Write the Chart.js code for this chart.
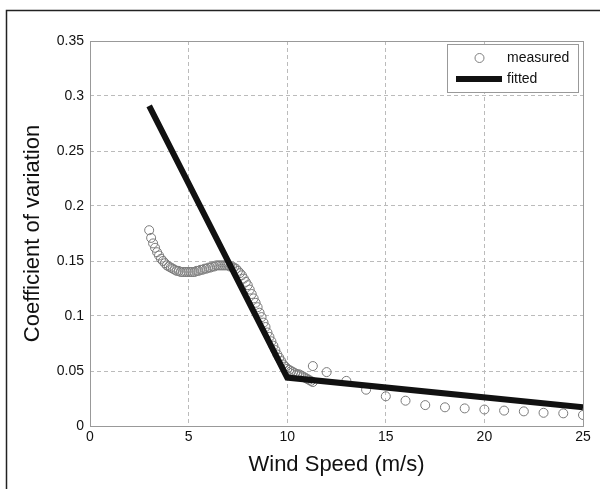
<!DOCTYPE html>
<html>
<head>
<meta charset="utf-8">
<script src="https://cdn.jsdelivr.net/npm/chart.js@4.4.1/dist/chart.umd.min.js"></script>
<style>
  html, body { margin: 0; padding: 0; background: #fff; }
  #wrap { width: 606px; height: 489px; position: relative; }
</style>
</head>
<body>
<div id="wrap"><canvas id="cv"></canvas></div>
<script>
// measured CV, dense part (3 - 11.3 m/s)
const denseSpeed = [
  3.0, 3.1, 3.2, 3.3, 3.4, 3.5, 3.6, 3.7, 3.8, 3.9,
  4.0, 4.1, 4.2, 4.3, 4.4, 4.5, 4.6, 4.7, 4.8, 4.9,
  5.0, 5.1, 5.2, 5.3, 5.4, 5.5, 5.6, 5.7, 5.8, 5.9,
  6.0, 6.1, 6.2, 6.3, 6.4, 6.5, 6.6, 6.7, 6.8, 6.9,
  7.0, 7.1, 7.2, 7.3, 7.4, 7.5, 7.6, 7.7, 7.8, 7.9,
  8.0, 8.1, 8.2, 8.3, 8.4, 8.5, 8.6, 8.7, 8.8, 8.9,
  9.0, 9.1, 9.2, 9.3, 9.4, 9.5, 9.6, 9.7, 9.8, 9.9,
  10.0, 10.1, 10.2, 10.3, 10.4, 10.5, 10.6, 10.7, 10.8, 10.9,
  11.0, 11.1, 11.2, 11.3
];
const denseCV = [
  0.178, 0.171, 0.166, 0.162, 0.158, 0.155, 0.152, 0.150, 0.148, 0.146,
  0.145, 0.144, 0.143, 0.142, 0.141, 0.141, 0.140, 0.140, 0.140, 0.140,
  0.140, 0.140, 0.140, 0.140, 0.141, 0.141, 0.142, 0.142, 0.143, 0.143,
  0.144, 0.144, 0.145, 0.145, 0.146, 0.146, 0.146, 0.146, 0.146, 0.146,
  0.146, 0.145, 0.145, 0.144, 0.143, 0.141, 0.139, 0.137, 0.134, 0.131,
  0.128, 0.124, 0.120, 0.116, 0.112, 0.108, 0.103, 0.099, 0.094, 0.090,
  0.085, 0.081, 0.077, 0.073, 0.069, 0.065, 0.062, 0.059, 0.056, 0.054,
  0.052, 0.051, 0.050, 0.049, 0.048, 0.047, 0.047, 0.046, 0.045, 0.044,
  0.043, 0.042, 0.041, 0.040
];
// measured CV, sparse part
const sparseSpeed = [11.3, 12, 13, 14, 15, 16, 17, 18, 19, 20, 21, 22, 23, 24, 25];
const sparseCV = [0.0545, 0.049, 0.041, 0.033, 0.027, 0.023, 0.019, 0.017, 0.016, 0.015, 0.014, 0.0133, 0.012, 0.0115, 0.010];

// fitted piecewise line
const fitSpeed = [3, 10, 25];
const fitCV = [0.291, 0.044, 0.017];

const xTicks = [0, 5, 10, 15, 20, 25];
const yTicks = [0, 0.05, 0.1, 0.15, 0.2, 0.25, 0.3, 0.35];

const FONT = "'Liberation Sans', Arial, Helvetica, sans-serif";
const toPts = (xs, ys) => xs.map((x, i) => ({ x: x, y: ys[i] }));

const measuredPts = toPts(denseSpeed, denseCV).concat(toPts(sparseSpeed, sparseCV));

// page frame + plot box + in-axes legend
const framePlugin = {
  id: 'frame',
  beforeDatasetsDraw(chart) {
    const { ctx, chartArea: a } = chart;
    ctx.save();
    ctx.strokeStyle = '#999';
    ctx.lineWidth = 1;
    ctx.setLineDash([]);
    ctx.strokeRect(Math.round(a.left) + 0.5, Math.round(a.top) + 0.5,
      Math.round(a.right - a.left), Math.round(a.bottom - a.top));
    ctx.restore();
  },
  afterDraw(chart) {
    const { ctx } = chart;
    ctx.save();
    // outer frame (top + left)
    ctx.strokeStyle = '#222';
    ctx.lineWidth = 1.5;
    ctx.beginPath();
    ctx.moveTo(600, 10.5);
    ctx.lineTo(6.5, 10.5);
    ctx.lineTo(6.5, 489);
    ctx.stroke();

    // legend
    const lx = 447.5, ly = 44.5, lw = 131, lh = 48;
    ctx.fillStyle = '#fff';
    ctx.fillRect(lx, ly, lw, lh);
    ctx.strokeStyle = '#999';
    ctx.lineWidth = 1;
    ctx.strokeRect(lx, ly, lw, lh);

    ctx.strokeStyle = '#808080';
    ctx.beginPath();
    ctx.arc(479.5, 58, 4.5, 0, Math.PI * 2);
    ctx.stroke();

    ctx.strokeStyle = '#111';
    ctx.lineWidth = 6;
    ctx.beginPath();
    ctx.moveTo(456, 79);
    ctx.lineTo(502, 79);
    ctx.stroke();

    ctx.fillStyle = '#111';
    ctx.font = '14px ' + FONT;
    ctx.textBaseline = 'middle';
    ctx.textAlign = 'left';
    ctx.fillText('measured', 507, 58);
    ctx.fillText('fitted', 507, 79);
    ctx.restore();
  }
};

new Chart(document.getElementById('cv'), {
  type: 'scatter',
  data: {
    datasets: [
      {
        label: 'measured',
        data: measuredPts,
        showLine: false,
        pointStyle: 'circle',
        pointRadius: 4.5,
        pointBorderWidth: 1,
        pointBorderColor: '#7a7a7a',
        pointBackgroundColor: 'rgba(0,0,0,0)',
        order: 2
      },
      {
        label: 'fitted',
        data: toPts(fitSpeed, fitCV),
        showLine: true,
        borderColor: '#111',
        borderWidth: 6,
        pointRadius: 0,
        tension: 0,
        order: 1
      }
    ]
  },
  options: {
    responsive: true,
    maintainAspectRatio: false,
    animation: false,
    layout: { padding: { top: 41, right: 23, left: 0, bottom: 0 } },
    plugins: {
      legend: { display: false },
      tooltip: { enabled: false }
    },
    scales: {
      x: {
        type: 'linear',
        min: 0, max: 25,
        afterFit: s => { s.height = 63; },
        afterBuildTicks: s => { s.ticks = xTicks.map(v => ({ value: v })); },
        ticks: { color: '#111', font: { family: FONT, size: 14 }, padding: 3, maxRotation: 0 },
        grid: { color: '#bbb', lineWidth: 1, drawTicks: false },
        border: { display: false, dash: [4, 3] },
        title: {
          display: true, text: 'Wind Speed (m/s)', color: '#111',
          font: { family: FONT, size: 22 }, padding: { top: 0, bottom: 11 }
        }
      },
      y: {
        type: 'linear',
        min: 0, max: 0.35,
        afterFit: s => { s.width = 90; },
        afterBuildTicks: s => { s.ticks = yTicks.map(v => ({ value: v })); },
        ticks: {
          color: '#111', font: { family: FONT, size: 14 }, padding: 6,
          callback: v => String(+v.toFixed(2))
        },
        grid: { color: '#bbb', lineWidth: 1, drawTicks: false },
        border: { display: false, dash: [4, 3] },
        title: {
          display: true, text: 'Coefficient of variation', color: '#111',
          font: { family: FONT, size: 22 }, padding: { top: 20, bottom: 0 }
        }
      }
    }
  },
  plugins: [framePlugin]
});
</script>
</body>
</html>
